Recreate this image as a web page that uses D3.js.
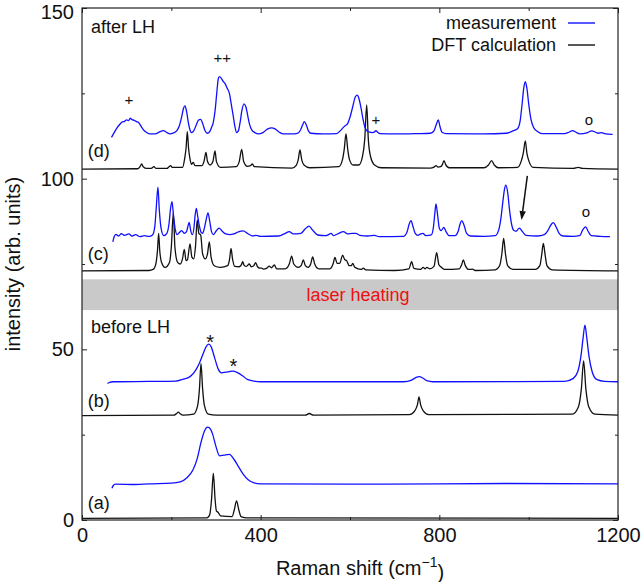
<!DOCTYPE html>
<html>
  <head>
    <meta charset="utf-8">
    <title>Raman spectra</title>
    <style>
    body { margin: 0; background: #fff; }
    svg text { font-family: "Liberation Sans", Arial, Helvetica, sans-serif; }
    .tick line { stroke: #222; }
    .tick text { font-size: 20px; fill: #111; }
    .spec { fill: none; stroke-width: 1.3px; stroke-linejoin: round; }
    </style>
    <script src="https://d3js.org/d3.v7.min.js"></script>
  </head>
  <body>
    <svg id="chart"></svg>
    <script>
      // spectra, [Raman shift, intensity]
      var measA = [[67,9.3],[70,10.1],[75,10.5],[120,10.4],[150,10.6],[200,10.8],[220,11.2],[235,12.4],[248,14.6],[258,18],[266,22.5],[274,26],[281,27.2],[285,27],[292,25.3],[300,21.5],[308,18.8],[318,19],[330,19.2],[340,17.8],[350,15.7],[360,13.6],[372,11.8],[385,10.9],[400,10.6],[600,10.5],[800,10.6],[950,10.7],[1200,10.6]];
      var dftA = [[0,0.5],[280,0.6],[286,1.6],[290,6],[294,13.7],[298,6],[301,2.6],[305,2.2],[310,1.2],[336,1],[341,3],[346,5.6],[351,3],[356,1],[370,0.6],[1200,0.5]];

      var measB = [[57,40],[62,40.3],[70,40.5],[150,40.6],[210,40.7],[225,41.2],[242,42],[255,44],[263,46],[272,49],[279,51],[284,51.5],[289,50.8],[297,47.5],[305,44.2],[312,43.1],[322,43.3],[336,43.6],[348,43.2],[360,42.2],[370,41.2],[385,40.7],[400,40.5],[720,40.5],[738,41],[747,41.7],[755,42],[763,41.6],[772,40.8],[785,40.5],[1080,40.6],[1100,41.5],[1110,43.5],[1117,48],[1122,53.5],[1126,57.1],[1130,53.5],[1135,48],[1142,43.5],[1152,41.2],[1170,40.6],[1200,40.5]];
      var dftB = [[0,30.6],[205,30.7],[211,31.1],[215.6,31.6],[220,31.1],[226,30.7],[250,31],[259,33.6],[263,38.5],[266.4,45.9],[270,38.5],[274,33.6],[283,31],[300,30.7],[500,30.7],[509,31.2],[518,30.7],[733,30.9],[745,32],[751,33.8],[754.5,36.1],[758,33.8],[764,32],[776,30.9],[1098,31],[1111,33],[1118,38.5],[1123,46.6],[1128,38.5],[1135,33],[1148,31],[1200,30.7]];

      var measC = [[69,81.5],[72,83],[76,83.7],[82,83.2],[88,83.9],[95,83.4],[105,83.8],[112,83.2],[120,83.6],[130,83],[140,83.3],[150,83.1],[158,83.5],[163,86],[166,91],[170,97.5],[173,91],[177,85.5],[183,83.3],[190,84],[195,87],[198,91],[201.5,93.3],[205,89],[209,85],[213,83.6],[218,84.2],[223,84.8],[229,84],[234,84.5],[237,86],[240,87.2],[243,85],[247,83.6],[251,86],[253,89],[256,91.3],[259,89],[263,86],[267,84.2],[270,84],[274,85.5],[278,88],[282,90],[286,87.5],[290,84.5],[294,83.6],[300,84.6],[307,85.5],[314,84.6],[322,83.8],[331,83.6],[340,83.8],[350,84.4],[361,84.7],[370,84],[382,83.2],[390,83.4],[400,83.1],[440,83.2],[455,84],[464,84.5],[473,83.8],[490,84],[500,85.3],[508,86.1],[517,84.8],[528,83.5],[545,83.3],[552,83.6],[557.5,84],[563,83.3],[575,84],[585,84.5],[595,83.8],[605,84],[613,84],[622,83.4],[640,83.2],[655,83.4],[665,83],[720,83.1],[728,84.5],[732,86.5],[736.6,87.7],[741,86],[746,84],[752,83.4],[758,83.8],[763,84],[770,83.3],[782,83.5],[787,86],[790,90],[792.5,92.6],[796,89.5],[800,85.5],[804,84.8],[810,85.7],[815,84.5],[822,83.3],[835,83.3],[842,84.5],[846,86.5],[850,87.7],[855,86.5],[861,84],[870,83.2],[900,83.1],[925,83.3],[933,85],[938,88.5],[942,93],[946,97],[949,98.1],[953,96],[957,91],[962,86.5],[967,84.8],[972,84.6],[979,85.5],[986,84.5],[994,83.4],[1020,83.2],[1035,83.6],[1043,84.8],[1050,86.5],[1055,87.1],[1061,86],[1068,84],[1077,83.2],[1100,83.1],[1115,83.4],[1121,85],[1127.6,85.9],[1133,84.6],[1140,83.3],[1160,83.1],[1182,83]];
      var dftC = [[0,73],[150,73.1],[160,73.5],[166,75.5],[169,79],[171.6,84],[174,79],[178,75.5],[186,74],[196,75.5],[200,80],[204.5,90],[208,80],[214,75.5],[220,75],[225,76.5],[229,79.3],[233,76],[236,76.2],[241.8,80.9],[246,77],[250,76.5],[254,80],[258,87.9],[261.5,84],[265.7,83.5],[270,78],[276,76.5],[281,78],[285,81.5],[289,77],[296,74.5],[310,74],[326,74.5],[330.5,76.5],[333.6,79.6],[337,76.5],[342,74.3],[352,74.2],[357,74.8],[359.7,75.7],[363,74.6],[368,74.3],[374.6,75],[379,74.2],[384,74.4],[388.8,75.4],[393,74.2],[398,73.8],[402,73.8],[406,73.5],[414,73.8],[419,74.4],[424,73.9],[430.5,74.7],[436,73.6],[455,73.6],[464,75],[469.4,77.3],[474,75],[484,74],[491,74.6],[495.5,76.2],[500,74.5],[506,74],[512,75],[516.4,77.1],[521,75],[530,73.6],[555,73.6],[562,75],[566.4,76.9],[571,75.2],[577,75.2],[583.6,77.6],[588,76.3],[592.5,76],[598,74.5],[603,74.5],[606,75.2],[611,74],[625,73.4],[630,73.8],[635,73.3],[700,73.1],[732,73.6],[738,75.7],[743,73.7],[758,73.4],[764,74],[768,73.6],[772,74],[778,73.6],[788,74.3],[794,78.3],[799,74.8],[805,74],[812,73.4],[845,73.6],[850,74.8],[853.7,76.2],[858,74.6],[866,73.4],[874.6,73.5],[880,73.1],[925,73.3],[935,74.5],[940,78],[944,82.5],[948,78],[953,74.5],[965,73.4],[1015,73.4],[1025,74.5],[1029,77.5],[1032.8,81],[1037,77.5],[1041,74.5],[1052,73.3],[1200,73]];

      var measD = [[66,112.1],[72,113.5],[78,114.8],[84,115.8],[89,116.5],[95,116.8],[100,117.2],[104,117],[108,117.7],[112,117.3],[117,117.1],[122,116.7],[127,116.4],[133,115.2],[139,114.1],[145,113.5],[152,113.1],[160,113.1],[168,113.3],[175,113.8],[182,114.1],[189,113.6],[197,113.1],[205,113.4],[212,114],[218,115.5],[223,118],[227,120.5],[230.6,121.3],[234,119.8],[238,116.5],[242,114.2],[245.5,113.5],[250,114],[256,115.8],[261,117.2],[265.7,117.4],[270,116.2],[275,114.2],[280.6,113.3],[286,113.8],[290,115],[294,116.5],[298,120],[302,125.5],[305,129.2],[307.5,129.9],[312,129.4],[316,128.5],[320,127.9],[325,126.5],[330,125],[334,122],[338.8,118.2],[342,115.5],[346,113.5],[350,114],[354,116.5],[358,120],[362.7,121.9],[367,121],[371,118.5],[375,116],[380,114.3],[387,113.5],[394.7,113.1],[405,113.5],[415,114.5],[424.6,114.9],[433,114.5],[442,113.6],[450.7,113.1],[470,113.1],[482,113.3],[489,114.2],[494,115.8],[497.8,116.7],[502,115.8],[507,114],[512,113.3],[540,113.1],[570,113.2],[578,114],[583.6,114.8],[589,115.5],[594,116],[600,118],[606,121],[612,124],[616.4,124.5],[620,123.5],[625,120.5],[629,117.5],[633.6,115],[638,114],[644,113.6],[650,113.5],[655,113.7],[658,114.1],[662,113.6],[667,113.2],[700,113.1],[750,113.2],[780,113.3],[788,114],[793,115.8],[797.8,117.2],[801,115.5],[806,113.6],[815,113.2],[900,113.1],[950,113.3],[965,114],[975,114.6],[981,117],[985,121.5],[989,126.5],[992.5,128.4],[996,126.5],[1000,122],[1005,117.5],[1011,115],[1020,113.8],[1030,113.2],[1080,113.2],[1090,113.6],[1098.5,114.1],[1106,113.6],[1115,113.1],[1130,113.4],[1141,114],[1150,113.6],[1156,113.3],[1163,113.5],[1170,113.2],[1188,113]];
      var dftD = [[0,102.8],[125,102.9],[130,103.5],[133.6,104.3],[137,103.5],[145,103],[155,103],[161,103.5],[166,103],[190,103],[195,103.5],[198.5,103.8],[202,103.3],[225,103.3],[230,106],[233,109],[235.8,113.8],[238.5,109],[241.5,106],[245,104.2],[249,104.8],[253,103.8],[268,103.8],[273,105],[277.6,107.7],[281,105],[287,104],[293,105],[297.8,108.1],[301,105],[310,103.3],[345,103.5],[352,105],[357.5,108.6],[362,105],[370,103.6],[377,103.8],[381.3,104.3],[386,103.5],[470,103.1],[480,104],[484,105.5],[488,108.4],[492,105.5],[497,104],[510,103.2],[575,103.5],[583,105.5],[587,108.5],[591,113.1],[595,108.5],[599,105.5],[607,104],[620,104],[628,106.5],[633,111.5],[637.4,121.6],[641,111.5],[646,106.5],[655,104],[670,103.2],[780,103.1],[788,103.4],[792.5,103.8],[797,103.4],[803,103.5],[807,104.2],[810.4,105.3],[814,104.2],[822,103.2],[900,103.2],[910,104],[917,105.3],[923,104],[932,103.2],[975,103.3],[983,105],[988,107.5],[992.5,111.1],[996,107.5],[1001,105],[1010,103.3],[1100,103],[1111,103.3],[1120,103],[1200,102.8]];

      var xTicks = [0, 400, 800, 1200];
      var xMinor = [200, 600, 1000];
      var yTicks = [0, 50, 100, 150];
      var yMinor = [25, 75, 125];

      var heatBand = [61.5, 70.5];
      var labels = [
        {x: 13, y: 108.2, t: "(d)"}, {x: 13, y: 78.1, t: "(c)"},
        {x: 13, y: 34.9, t: "(b)"}, {x: 13, y: 5.1, t: "(a)"},
        {x: 20, y: 144.5, t: "after LH"}, {x: 20, y: 56.6, t: "before LH"}
      ];
      var marks = [
        {x: 105, y: 123.3, t: "+"}, {x: 314, y: 135.5, t: "++"}, {x: 658, y: 117.4, t: "+"},
        {x: 1135, y: 117.4, t: "o"}, {x: 1128, y: 90.3, t: "o"},
        {x: 287, y: 54.5, t: "*"}, {x: 339, y: 47.4, t: "*"}
      ];
      var arrow = [[997, 100.8], [984, 87.9]];

      var width = 642, height = 582;
      var margin = {top: 8, right: 24, bottom: 62, left: 82};
      var w = width - margin.left - margin.right,
          h = height - margin.top - margin.bottom;

      var svg = d3.select("#chart").attr("width", width).attr("height", height);
      var g = svg.append("g").attr("transform", "translate(" + margin.left + "," + margin.top + ")");

      var x = d3.scaleLinear().domain([0, 1200]).range([0, w]);
      var y = d3.scaleLinear().domain([0, 150]).range([h, 0]);

      // laser heating band
      g.append("rect")
          .attr("x", 0).attr("width", w)
          .attr("y", y(heatBand[1]))
          .attr("height", y(heatBand[0]) - y(heatBand[1]))
          .attr("fill", "#c9c9c9");
      g.append("text")
          .attr("x", x(618)).attr("y", y((heatBand[0] + heatBand[1]) / 2))
          .attr("dy", "0.36em")
          .attr("text-anchor", "middle")
          .attr("fill", "#ee1111")
          .style("font-size", "18px")
          .text("laser heating");

      var line = d3.line()
          .x(function(d) { return x(d[0]); })
          .y(function(d) { return y(d[1]); })
          .curve(d3.curveMonotoneX);

      var series = [
        [dftA, "#111"], [measA, "#1010ff"],
        [dftB, "#111"], [measB, "#1010ff"],
        [dftC, "#111"], [measC, "#1010ff"],
        [dftD, "#111"], [measD, "#1010ff"]
      ];
      g.selectAll("path.spec")
        .data(series)
        .enter().append("path")
          .attr("class", "spec")
          .attr("stroke", function(d) { return d[1]; })
          .attr("d", function(d) { return line(d[0]); });

      // axes, ticks pointing inward on all four sides
      function tickAxis(axis, vals, size, labelled) {
        return axis.tickValues(vals).tickSize(-size).tickPadding(8)
          .tickFormat(labelled ? d3.format("d") : "");
      }
      function makeAxis(i) {
        return (i == 0) ? d3.axisBottom(x) : (i == 1) ? d3.axisTop(x) : (i == 2) ? d3.axisLeft(y) : d3.axisRight(y);
      }
      var axes = [
        ["translate(0," + h + ")", xTicks, xMinor],
        [null, xTicks, xMinor],
        [null, yTicks, yMinor],
        ["translate(" + w + ",0)", yTicks, yMinor]
      ];
      axes.forEach(function(a, i) {
        var labelled = (i == 0 || i == 2);
        var major = g.append("g").attr("transform", a[0]).call(tickAxis(makeAxis(i), a[1], 5, labelled));
        major.select(".domain").remove();
        if (i == 2) {
          // keep the top label inside the picture
          major.selectAll(".tick text").filter(function(d) { return d == 150; }).attr("dy", "0.5em");
        }
        var minor = g.append("g").attr("transform", a[0]);
        minor.call(tickAxis(makeAxis(i), a[2], 3, false));
        minor.select(".domain").remove();
      });
      g.selectAll(".tick text").style("font-family", "'Liberation Sans', Arial, sans-serif");

      g.append("rect")
          .attr("width", w).attr("height", h)
          .attr("fill", "none")
          .attr("stroke", "#222")
          .attr("stroke-width", 1.2);

      // panel labels and peak marks
      g.selectAll("text.lbl")
        .data(labels)
        .enter().append("text")
          .attr("class", "lbl")
          .attr("x", function(d) { return x(d.x); })
          .attr("y", function(d) { return y(d.y); })
          .attr("dy", "0.36em")
          .style("font-size", "18px")
          .attr("fill", "#111")
          .text(function(d) { return d.t; });

      g.selectAll("text.mk")
        .data(marks)
        .enter().append("text")
          .attr("class", "mk")
          .attr("x", function(d) { return x(d.x); })
          .attr("y", function(d) { return y(d.y); })
          .attr("dy", function(d) { return d.t == "*" ? "0.75em" : "0.36em"; })
          .attr("text-anchor", "middle")
          .style("font-size", function(d) { return d.t == "*" ? "20px" : "15px"; })
          .attr("fill", "#111")
          .text(function(d) { return d.t; });

      // arrow pointing at the 980 shoulder
      var p0 = [x(arrow[0][0]), y(arrow[0][1])], p1 = [x(arrow[1][0]), y(arrow[1][1])];
      var ang = Math.atan2(p1[1] - p0[1], p1[0] - p0[0]);
      var headL = 9, headW = 3.2;
      var base = [p1[0] - headL * Math.cos(ang), p1[1] - headL * Math.sin(ang)];
      g.append("line")
          .attr("x1", p0[0]).attr("y1", p0[1])
          .attr("x2", base[0]).attr("y2", base[1])
          .attr("stroke", "#111").attr("stroke-width", 1.5);
      g.append("path")
          .attr("d", "M" + p1[0] + "," + p1[1] +
            "L" + (base[0] + headW * Math.sin(ang)) + "," + (base[1] - headW * Math.cos(ang)) +
            "L" + (base[0] - headW * Math.sin(ang)) + "," + (base[1] + headW * Math.cos(ang)) + "Z")
          .attr("fill", "#111");

      // legend
      var legend = g.append("g").attr("transform", "translate(" + (w - 62) + ",15)");
      [["measurement", "#1010ff"], ["DFT calculation", "#111"]].forEach(function(d, i) {
        var row = legend.append("g").attr("transform", "translate(0," + (i * 22) + ")");
        row.append("text")
            .attr("text-anchor", "end")
            .attr("dy", "0.36em")
            .style("font-size", "18px")
            .attr("fill", "#111")
            .text(d[0]);
        row.append("line")
            .attr("x1", 12).attr("x2", 39)
            .attr("stroke", d[1]).attr("stroke-width", 1.4);
      });

      // axis titles
      var xt = svg.append("text")
          .attr("x", margin.left + w / 2 + 10)
          .attr("y", height - 7)
          .attr("text-anchor", "middle")
          .style("font-size", "20px")
          .attr("fill", "#111");
      xt.append("tspan").text("Raman shift (cm");
      xt.append("tspan").attr("dy", "-0.6em").style("font-size", "14px").text("\u22121");
      xt.append("tspan").attr("dy", "0.6em").text(")");

      svg.append("text")
          .attr("transform", "translate(20," + (margin.top + h / 2) + ") rotate(-90)")
          .attr("text-anchor", "middle")
          .style("font-size", "20px")
          .attr("fill", "#111")
          .text("intensity (arb. units)");
    </script>
  </body>
</html>
